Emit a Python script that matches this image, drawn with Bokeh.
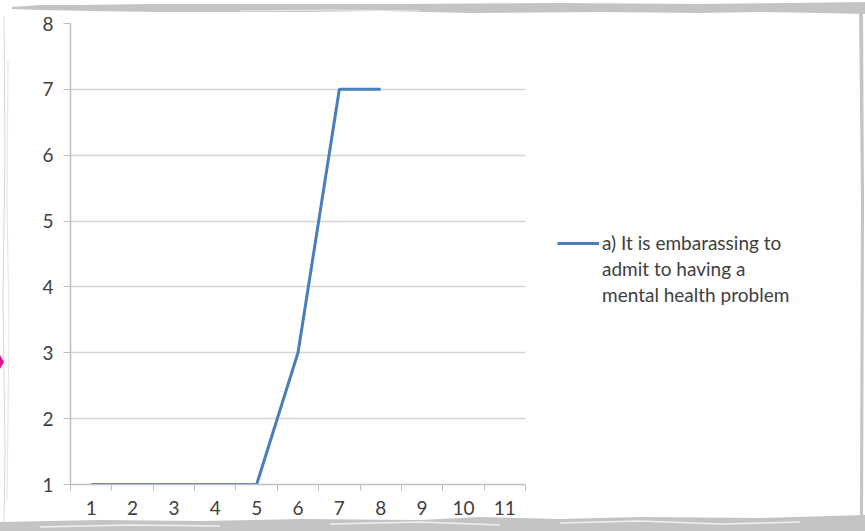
from bokeh.plotting import figure
from bokeh.models import FixedTicker, Legend, LegendItem, Range1d, ColumnDataSource
from bokeh.embed import file_html
from bokeh.resources import INLINE

# Responses per rating (rating 1..8 on the x axis)
ratings = [1, 2, 3, 4, 5, 6, 7, 8]
counts = [1, 1, 1, 1, 1, 3, 7, 7]
x_tick_labels = [str(i) for i in range(1, 12)]
y_ticks = [1, 2, 3, 4, 5, 6, 7, 8]
series_lines = ["a) It is embarassing to", "admit to having a", "mental health problem"]

TEXT = "#404040"
AXIS = "#bfbfbf"
GRID = "#d4d4d4"
BLUE = "#4a7ebb"
FONT = "Lato"

X_MIN, X_MAX = 0.5, 11.5
# plot area runs on to the right edge so the legend can sit beside the chart
PX_PER_UNIT = 455 / (X_MAX - X_MIN)
X_END = X_MIN + 795 / PX_PER_UNIT

# torn paper edge drawn behind a transparent canvas
paper = (
    "<svg xmlns='http://www.w3.org/2000/svg' width='865' height='531' viewBox='0 0 865 531'>"
    "<rect width='865' height='531' fill='white'/>"
    "<polygon fill='%23c4c4c4' points='12,7 40,5 80,5 150,4 260,4 400,4 560,3 700,4 790,3 865,2 "
    "865,14 820,13 760,12 700,13 600,12 470,13 380,11 300,12 160,12 90,11 40,10 12,9'/>"
    "<polyline fill='none' stroke='%23ececec' stroke-width='1' points='240,11 330,10 420,11'/>"
    "<polygon fill='%23c4c4c4' points='0,522 100,520 200,521 300,519 420,520 480,517 560,519 "
    "640,517 760,518 865,515 865,531 0,531'/>"
    "<polyline fill='none' stroke='%23f0f0f0' stroke-width='1.5' points='40,527 130,525 220,526'/>"
    "<polyline fill='none' stroke='%23f0f0f0' stroke-width='1.5' points='330,524 420,522 500,525'/>"
    "<polyline fill='none' stroke='%23f0f0f0' stroke-width='1.5' points='560,523 640,521 720,524 800,522'/>"
    "<polygon fill='%23c4c4c4' points='859,10 863,10 864,200 863,520 860,520 861,200'/>"
    "<polyline fill='none' stroke='%23d6d6d6' stroke-width='1' points='4,16 5,150 3,300 5,450 4,522'/>"
    "<polyline fill='none' stroke='%23e4e4e4' stroke-width='1' points='8,60 7,200 9,330 7,500'/>"
    "<polygon fill='%23e0188a' points='0,355 4,362 0,369'/>"
    "</svg>"
)

p = figure(width=865, height=531, output_backend="svg", toolbar_location=None,
           x_range=Range1d(X_MIN, X_END), y_range=Range1d(1, 8),
           min_border_left=70, min_border_right=0,
           min_border_top=23, min_border_bottom=47,
           styles={"background-color": "white",
                   "background-image": 'url("data:image/svg+xml;utf8,' + paper + '")',
                   "background-size": "100% 100%",
                   "background-repeat": "no-repeat"})
p.outline_line_color = None
p.background_fill_alpha = 0
p.border_fill_alpha = 0

src = ColumnDataSource(dict(x=ratings, y=counts))
r = p.line("x", "y", source=src, line_color=BLUE, line_width=3)

# x axis: labels on categories, tick marks between them
xa = p.xaxis[0]
xa.bounds = (X_MIN, X_MAX)
xa.ticker = FixedTicker(ticks=list(range(1, 12)),
                        minor_ticks=[i + 0.5 for i in range(0, 12)])
xa.major_label_overrides = {i + 1: t for i, t in enumerate(x_tick_labels)}
xa.major_tick_out = 0
xa.major_tick_in = 0
xa.minor_tick_out = 6
xa.minor_tick_in = 0
xa.minor_tick_line_color = AXIS
xa.axis_line_color = AXIS
xa.axis_line_width = 1.5
xa.major_label_text_font = FONT
xa.major_label_text_font_size = "19px"
xa.major_label_text_color = TEXT
xa.major_label_standoff = 10

ya = p.yaxis[0]
ya.ticker = FixedTicker(ticks=y_ticks)
ya.major_tick_out = 7
ya.major_tick_in = 0
ya.minor_tick_line_color = None
ya.major_tick_line_color = AXIS
ya.axis_line_color = AXIS
ya.axis_line_width = 1.5
ya.major_label_text_font = FONT
ya.major_label_text_font_size = "19px"
ya.major_label_text_color = TEXT
ya.major_label_standoff = 10

p.xgrid.grid_line_color = None
yg = p.ygrid[0]
yg.ticker = FixedTicker(ticks=y_ticks)
yg.grid_line_color = GRID
yg.grid_line_width = 1.5
if "cross_bounds" in yg.properties():
    yg.cross_bounds = (X_MIN, X_MAX)

items = [LegendItem(label=series_lines[0], renderers=[r])]
items += [LegendItem(label=t, renderers=[]) for t in series_lines[1:]]
legend = Legend(items=items, location=(487, 178), orientation="vertical",
                border_line_color=None, background_fill_alpha=0,
                label_text_font=FONT, label_text_font_size="19px",
                label_text_color=TEXT, glyph_width=42, glyph_height=20,
                label_height=20, label_standoff=3, padding=0, margin=0,
                spacing=3)
p.add_layout(legend, "center")

open("out.html", "w").write(file_html(p, INLINE))
